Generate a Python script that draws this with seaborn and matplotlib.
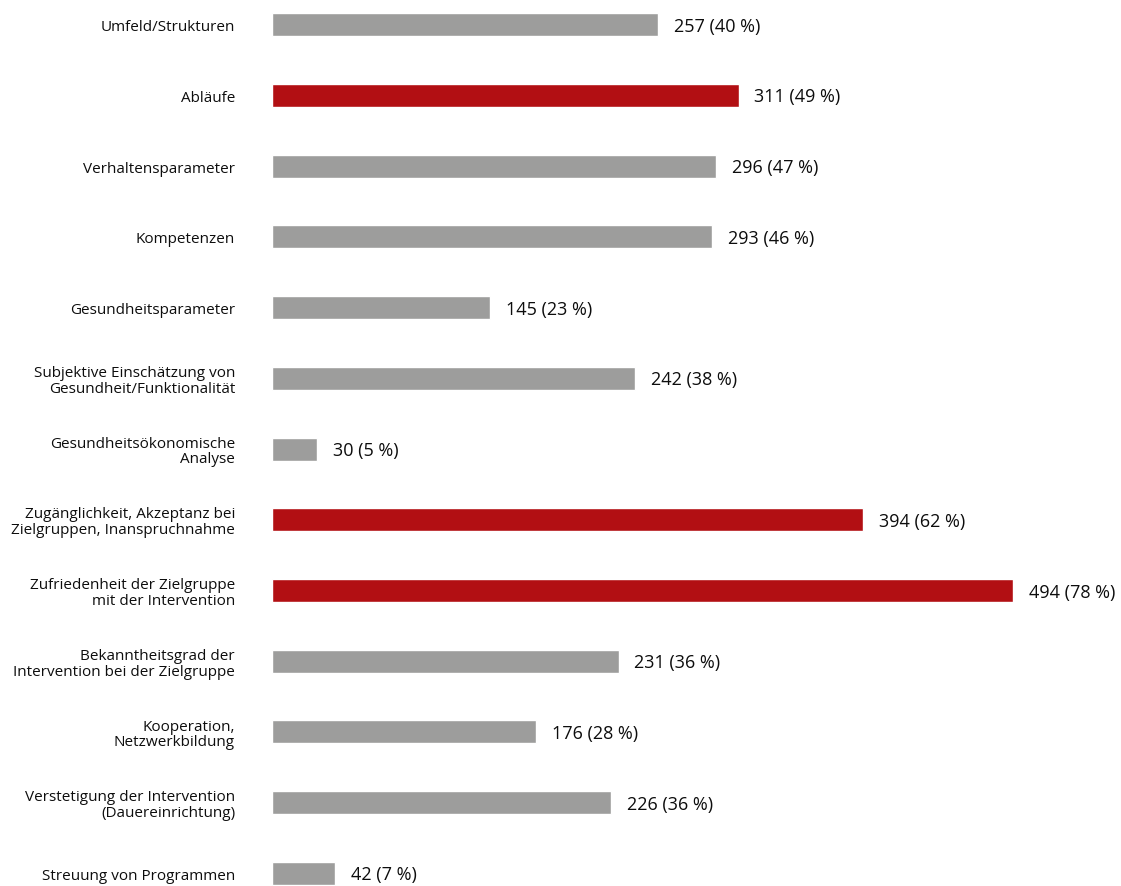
import matplotlib
matplotlib.use("Agg")
import matplotlib.pyplot as plt
import matplotlib.transforms as mtransforms
import seaborn as sns
import pandas as pd

categories = [
    "Umfeld/Strukturen",
    "Abläufe",
    "Verhaltensparameter",
    "Kompetenzen",
    "Gesundheitsparameter",
    "Subjektive Einschätzung von\nGesundheit/Funktionalität",
    "Gesundheitsökonomische\nAnalyse",
    "Zugänglichkeit, Akzeptanz bei\nZielgruppen, Inanspruchnahme",
    "Zufriedenheit der Zielgruppe\nmit der Intervention",
    "Bekanntheitsgrad der\nIntervention bei der Zielgruppe",
    "Kooperation,\nNetzwerkbildung",
    "Verstetigung der Intervention\n(Dauereinrichtung)",
    "Streuung von Programmen",
]
counts = [257, 311, 296, 293, 145, 242, 30, 394, 494, 231, 176, 226, 42]
percents = [40, 49, 47, 46, 23, 38, 5, 62, 78, 36, 28, 36, 7]
highlight = [False, True, False, False, False, False, False, True, True, False, False, False, False]

GRAY = "#9d9d9c"
RED = "#b20f13"

sns.set_theme(style="white")
plt.rcParams["font.family"] = ["Open Sans", "DejaVu Sans"]

df = pd.DataFrame({"cat": categories, "n": counts, "hl": ["r" if h else "g" for h in highlight]})

W, H = 1121, 887
fig = plt.figure(figsize=(W / 100, H / 100), dpi=100)
ax = fig.add_axes([272 / W, 0, 741 / W, 1])

sns.barplot(data=df, x="n", y="cat", hue="hl", palette={"r": RED, "g": GRAY},
            dodge=False, width=0.325, legend=False, ax=ax, orient="h", saturation=1)

step = 70.7
ax.set_xlim(0, 494)
ax.set_ylim(12 + (887 - 874.5) / step, -25.5 / step)
for s in ax.spines.values():
    s.set_visible(False)
ax.set_xticks([])
ax.set_xlabel("")
ax.set_ylabel("")
ax.set_yticks([])

lab_off = mtransforms.offset_copy(ax.get_yaxis_transform(), fig=fig, x=-37, y=-2, units="dots")
for i, c in enumerate(categories):
    ax.text(0, i, c, transform=lab_off, ha="right", va="center", fontsize=11,
            color="#0d0d0d", linespacing=1.05)

val_off = mtransforms.offset_copy(ax.transData, fig=fig, x=16, y=-1, units="dots")
for i, (n, p) in enumerate(zip(counts, percents)):
    ax.text(n, i, f"{n} ({p} %)", transform=val_off, ha="left", va="center",
            fontsize=13, color="#0d0d0d")

fig.savefig("out.png", dpi=100)
